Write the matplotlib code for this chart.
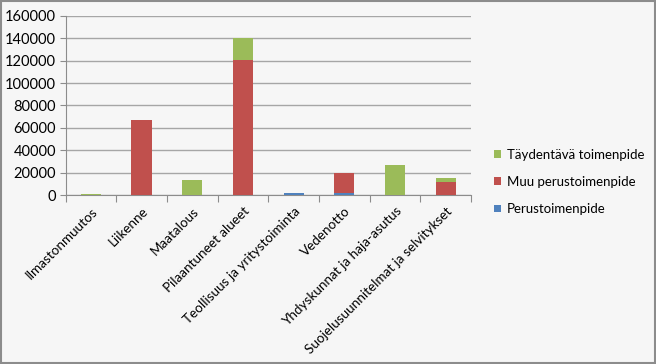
import numpy as np
import matplotlib.pyplot as plt
from matplotlib.patches import Rectangle

plt.rcParams['font.family'] = ['Lato', 'DejaVu Sans']

# Tiedot
kategoriat = ["Ilmastonmuutos", "Liikenne", "Maatalous", "Pilaantuneet alueet",
              "Teollisuus ja yritystoiminta", "Vedenotto",
              "Yhdyskunnat ja haja-asutus", "Suojelusuunnitelmat ja selvitykset"]
perus = [0, 0, 0, 0, 2000, 1800, 0, 0]
muu_perus = [0, 67000, 0, 120500, 0, 18200, 0, 12000]
taydentava = [1000, 0, 13500, 20000, 0, 0, 27300, 3400]

sininen = "#4f81bd"
punainen = "#c0504d"
vihrea = "#9bbb59"

fig = plt.figure(figsize=(6.56, 3.64), dpi=100, facecolor="#f6f6f6")
ax = fig.add_axes([0.1, 0.4635, 0.618, 0.4935])
ax.set_facecolor("#f6f6f6")

x = np.arange(len(kategoriat))
w = 0.4
b1 = ax.bar(x, perus, w, color=sininen, label="Perustoimenpide", zorder=3)
b2 = ax.bar(x, muu_perus, w, bottom=perus, color=punainen,
            label="Muu perustoimenpide", zorder=3)
pohja = np.array(perus) + np.array(muu_perus)
b3 = ax.bar(x, taydentava, w, bottom=pohja, color=vihrea,
            label="Täydentävä toimenpide", zorder=3)

ax.set_xlim(-0.5, len(kategoriat) - 0.5)
ax.set_ylim(0, 160000)
ax.set_yticks(np.arange(0, 160001, 20000))
ax.yaxis.grid(True, color="#a6a6a6", linewidth=1.0, zorder=0)

# x-akselin tikit kategorioiden rajoille
ax.set_xticks(np.arange(-0.5, len(kategoriat)), minor=False)
ax.set_xticklabels([])
ax.set_xticks(x, minor=True)
ax.set_xticklabels(kategoriat, minor=True, rotation=45, ha="right",
                   rotation_mode="anchor", fontsize=9.7)
ax.tick_params(axis="x", which="minor", length=0, pad=7)
ax.tick_params(axis="x", which="major", length=5, color="#8c8c8c")
ax.tick_params(axis="y", length=4, color="#8c8c8c", labelsize=10.5, pad=3)

for s in ["top", "right"]:
    ax.spines[s].set_visible(False)
for s in ["left", "bottom"]:
    ax.spines[s].set_color("#8c8c8c")

ax.legend(handles=[b3, b2, b1], loc="center left", bbox_to_anchor=(1.056, 0.074),
          frameon=False, fontsize=9.5, handlelength=0.55, handleheight=0.55,
          handletextpad=0.45, labelspacing=1.15, borderaxespad=0.0, borderpad=0.0)

fig.patches.append(Rectangle((0.0015, 0.0025), 0.997, 0.995, transform=fig.transFigure,
                             fill=False, edgecolor="#8c8c8c", linewidth=1.5))

fig.savefig("out.png", dpi=100, facecolor=fig.get_facecolor())
